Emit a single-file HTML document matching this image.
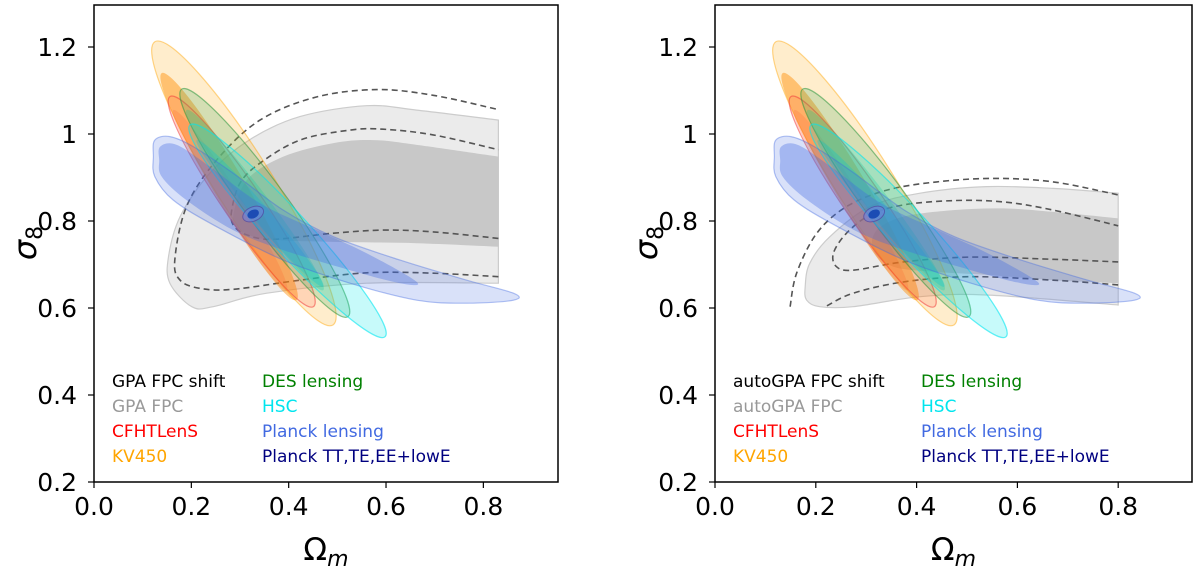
<!DOCTYPE html>
<html><head><meta charset="utf-8"><style>
html,body{margin:0;padding:0;background:#fff;}
svg{display:block;font-family:"DejaVu Sans","Liberation Sans",sans-serif;}
</style></head><body>
<svg id="fig" width="1200" height="571" viewBox="0 0 1200 571"></svg>
<script>
// ---- data (Omega_m, sigma_8) ----
const yTicks = [0.2, 0.4, 0.6, 0.8, 1.0, 1.2];
const yTickLabels = ["0.2", "0.4", "0.6", "0.8", "1", "1.2"];
const xTicks = [0.0, 0.2, 0.4, 0.6, 0.8];
const xTickLabels = ["0.0", "0.2", "0.4", "0.6", "0.8"];

// lensing ellipses: [topOm, topS8, botOm, botS8, widthRatio]
const kvOuter = [0.125, 1.212, 0.491, 0.561, 0.17];
const kvInner = [0.139, 1.14, 0.416, 0.618, 0.12];
const cfOuter = [0.156, 1.086, 0.451, 0.603, 0.15];
const cfInner = [0.163, 1.055, 0.396, 0.641, 0.1];
const desOuter = [0.18, 1.103, 0.522, 0.58, 0.15];
const desInner = [0.19, 1.055, 0.471, 0.641, 0.1];
const hscOuter = [0.197, 1.021, 0.598, 0.534, 0.14];
const hscInner = [0.211, 0.986, 0.471, 0.649, 0.09];
const planckTTCenter = [0.327, 0.816];

const plOuterOm = [0.125,0.156,0.204,0.286,0.389,0.492,0.629,0.766,0.862,0.862,0.766,0.663,0.526,0.389,0.252,0.163,0.125,0.122];
const plOuterS8 = [0.986,0.994,0.971,0.910,0.825,0.764,0.710,0.664,0.634,0.618,0.611,0.618,0.657,0.710,0.787,0.848,0.902,0.948];
const plInnerOm = [0.136,0.170,0.238,0.341,0.458,0.560,0.663,0.629,0.526,0.389,0.286,0.190,0.139,0.134];
const plInnerS8 = [0.971,0.975,0.925,0.841,0.779,0.726,0.660,0.657,0.687,0.733,0.779,0.848,0.902,0.940];

// left panel: GPA FPC
const gOuterOm = [0.201,0.156,0.153,0.177,0.238,0.32,0.423,0.56,0.663,0.831,0.831,0.56,0.355,0.245];
const gOuterS8 = [0.603,0.657,0.718,0.810,0.910,0.987,1.04,1.065,1.055,1.032,0.657,0.657,0.634,0.603];
const gInnerOm = [0.286,0.314,0.389,0.492,0.574,0.663,0.831,0.831,0.663,0.492,0.355,0.30];
const gInnerS8 = [0.810,0.894,0.948,0.979,0.986,0.975,0.948,0.741,0.749,0.752,0.758,0.779];
const gDashOuterOm = [0.831,0.697,0.56,0.423,0.286,0.218,0.177,0.166,0.19,0.252,0.341,0.457,0.581,0.697,0.831];
const gDashOuterS8 = [0.672,0.680,0.681,0.664,0.643,0.645,0.664,0.710,0.833,0.940,1.032,1.085,1.102,1.089,1.056];
const gDashInnerOm = [0.831,0.697,0.594,0.492,0.368,0.314,0.286,0.283,0.30,0.341,0.423,0.526,0.594,0.697,0.831];
const gDashInnerS8 = [0.760,0.775,0.779,0.772,0.758,0.768,0.791,0.825,0.887,0.933,0.986,1.009,1.011,0.998,0.964];

// right panel: autoGPA FPC
const aOuterOm = [0.179,0.188,0.228,0.308,0.407,0.539,0.671,0.80,0.80,0.539,0.407,0.274,0.208,0.182];
const aOuterS8 = [0.649,0.703,0.764,0.833,0.864,0.879,0.875,0.864,0.607,0.630,0.626,0.603,0.603,0.618];
const aInnerOm = [0.321,0.374,0.473,0.572,0.671,0.80,0.80,0.671,0.539,0.44,0.354,0.314];
const aInnerS8 = [0.779,0.810,0.825,0.829,0.821,0.806,0.657,0.664,0.676,0.683,0.695,0.733];
const aDashAOm = [0.149,0.162,0.202,0.261,0.341,0.44,0.552,0.671,0.80];
const aDashAS8 = [0.603,0.680,0.772,0.833,0.871,0.890,0.898,0.890,0.860];
const aDashBOm = [0.222,0.274,0.374,0.506,0.671,0.80];
const aDashBS8 = [0.605,0.634,0.660,0.672,0.664,0.653];
const aDashInnerOm = [0.80,0.671,0.506,0.374,0.274,0.241,0.235,0.261,0.308,0.374,0.473,0.572,0.671,0.80];
const aDashInnerS8 = [0.706,0.712,0.717,0.706,0.687,0.695,0.726,0.772,0.814,0.837,0.847,0.844,0.825,0.789];

const legendA = ["GPA FPC shift","GPA FPC","CFHTLenS","KV450"];
const legendA2 = ["autoGPA FPC shift","autoGPA FPC","CFHTLenS","KV450"];
const legendB = ["DES lensing","HSC","Planck lensing","Planck TT,TE,EE+lowE"];
const legendColA = ["#000000","#999999","#ff0000","#ffa500"];
const legendColB = ["#008000","#00e5ee","#4169e1","#000080"];

const NS = "http://www.w3.org/2000/svg";
const svg = document.getElementById('fig');
function mk(tag, attrs, parent){ const e=document.createElementNS(NS,tag); for(const k in attrs) e.setAttribute(k,attrs[k]); (parent||svg).appendChild(e); return e; }

function panel(cfg){
  const g = mk('g',{});
  
  
  const X = v => cfg.x0 + cfg.kx*v;
  const Xl = v => cfg.x0 + 486.7*v;
  const Y = v => 482 - 435*(v-0.2);
  function smoothPath(om,s8,Xf,closed,cut){
    const p = om.map((o,i)=>[Xf(o),Y(s8[i])]); const n=p.length;
    let d='M'+p[0][0].toFixed(1)+','+p[0][1].toFixed(1);
    const last = closed? n : n-1;
    for(let i=0;i<last;i++){
      const p0=p[(i-1+n)%n], p1=p[i], p2=p[(i+1)%n], p3=p[(i+2)%n];
      if(cut!==undefined && om[i]>=cut && om[(i+1)%n]>=cut){ d+=' L'+p2[0].toFixed(1)+','+p2[1].toFixed(1); continue; }
      let a0 = (!closed && i===0)? p1:p0, a3=(!closed && i===n-2)? p2:p3;
      if(cut!==undefined && om[i]>=cut) a0=p1;
      if(cut!==undefined && om[(i+1)%n]>=cut) a3=p2;
      const c1=[p1[0]+(p2[0]-a0[0])/6, p1[1]+(p2[1]-a0[1])/6];
      const c2=[p2[0]-(a3[0]-p1[0])/6, p2[1]-(a3[1]-p1[1])/6];
      d+=' C'+c1.map(v=>v.toFixed(1))+' '+c2.map(v=>v.toFixed(1))+' '+p2.map(v=>v.toFixed(1));
    }
    return d+(closed?'Z':'');
  }
  const cut = Math.max(...cfg.gOm)-0.001;
  let e = mk('path',{d:smoothPath(cfg.gOm,cfg.gS8,X,true,cut),fill:'#ebebeb',stroke:'#cccccc','stroke-width':1.2},g);
  
  
  e = mk('path',{d:smoothPath(cfg.giOm,cfg.giS8,X,true,cut),fill:'#c8c8c8',stroke:'none'},g);
  
  
  cfg.dashes.forEach((dd,i)=>{
    const p = mk('path',{d:smoothPath(dd[0],dd[1],X,false),fill:'none',stroke:'#555','stroke-width':1.6,'stroke-dasharray':'6,4'},g);
    
    
  });
  function ell(arr, fill, stroke, nm){
    const x1=Xl(arr[0]), y1=Y(arr[1]), x2=Xl(arr[2]), y2=Y(arr[3]);
    const cx=(x1+x2)/2, cy=(y1+y2)/2, L=Math.hypot(x2-x1,y2-y1);
    const ang=Math.atan2(y2-y1,x2-x1)*180/Math.PI;
    const el = mk('ellipse',{cx:cx.toFixed(1),cy:cy.toFixed(1),rx:(L/2).toFixed(1),ry:(L*arr[4]/2).toFixed(1),transform:`rotate(${ang.toFixed(2)} ${cx.toFixed(1)} ${cy.toFixed(1)})`,fill:fill,stroke:stroke,'stroke-width':1.2},g);
    
    
  }
  ell(kvOuter,'rgba(255,165,0,0.2)','rgba(255,165,0,0.45)','kv450-outer');
  ell(kvInner,'rgba(255,140,0,0.45)','none','kv450-inner');
  ell(cfOuter,'rgba(255,80,60,0.15)','rgba(240,60,60,0.55)','cfhtlens-outer');
  ell(cfInner,'rgba(255,90,40,0.2)','none','cfhtlens-inner');
  ell(desOuter,'rgba(60,170,90,0.22)','rgba(40,150,60,0.55)','des-outer');
  ell(desInner,'rgba(30,200,140,0.3)','none','des-inner');
  ell(hscOuter,'rgba(0,230,230,0.22)','rgba(0,230,240,0.6)','hsc-outer');
  ell(hscInner,'rgba(0,200,210,0.3)','none','hsc-inner');
  e = mk('path',{d:smoothPath(plOuterOm,plOuterS8,Xl,true),fill:'rgba(65,105,225,0.2)',stroke:'rgba(65,105,225,0.4)','stroke-width':1.2},g);
  
  
  e = mk('path',{d:smoothPath(plInnerOm,plInnerS8,Xl,true),fill:'rgba(65,105,225,0.35)',stroke:'none'},g);
  
  
  const tx=Xl(planckTTCenter[0]), ty=Y(planckTTCenter[1]);
  e = mk('ellipse',{cx:tx,cy:ty,rx:11,ry:7,transform:`rotate(-25 ${tx} ${ty})`,fill:'rgba(110,130,220,0.6)',stroke:'rgba(80,70,160,0.7)','stroke-width':1},g);
  
  
  e = mk('ellipse',{cx:tx,cy:ty,rx:6,ry:4.2,transform:`rotate(-25 ${tx} ${ty})`,fill:'#1c4cb4'},g);
  
  
  e = mk('rect',{x:cfg.x0,y:5,width:cfg.x1-cfg.x0,height:477,fill:'none',stroke:'#000','stroke-width':1.5},g);
  
  
  yTicks.forEach((v,i)=>{
    mk('line',{x1:cfg.x0-6,x2:cfg.x0,y1:Y(v),y2:Y(v),stroke:'#000','stroke-width':1.2},g);
    const t=mk('text',{x:cfg.x0-17,y:Y(v)+9,'text-anchor':'end','font-size':25,fill:'#000'},g);
    t.textContent=yTickLabels[i];
    
    
  });
  xTicks.forEach((v,i)=>{
    mk('line',{x1:X(v),x2:X(v),y1:482,y2:488,stroke:'#000','stroke-width':1.2},g);
    const t=mk('text',{x:X(v),y:515,'text-anchor':'middle','font-size':25,fill:'#000'},g);
    t.textContent=xTickLabels[i];
    
    
  });
  let t=mk('text',{x:(cfg.x0+cfg.x1)/2,y:560,'text-anchor':'middle','font-size':31,fill:'#000'},g);
  t.innerHTML='Ω<tspan font-style="italic" font-size="22" dy="6">m</tspan>';
  
  
  t=mk('text',{x:0,y:0,transform:`translate(${cfg.x0-58},243) rotate(-90)`,'text-anchor':'middle','font-size':32,fill:'#000'},g);
  t.innerHTML='<tspan font-style="italic">σ</tspan><tspan font-size="22" dy="6">8</tspan>';
  
  
  cfg.legA.forEach((s,i)=>{
    const l=mk('text',{x:cfg.x0+18,y:387+25*i,'font-size':17,fill:legendColA[i]},g);
    l.textContent=s;
    
    
  });
  legendB.forEach((s,i)=>{
    const l=mk('text',{x:cfg.legX2,y:387+25*i,'font-size':17,fill:legendColB[i]},g);
    l.textContent=s;
    
    
  });
}

panel({name:'left-panel',x0:94,x1:558,kx:486.7,gOm:gOuterOm,gS8:gOuterS8,giOm:gInnerOm,giS8:gInnerS8,
  dashes:[[gDashOuterOm,gDashOuterS8],[gDashInnerOm,gDashInnerS8]],legA:legendA,legX2:262});
panel({name:'right-panel',x0:715,x1:1192,kx:504,gOm:aOuterOm,gS8:aOuterS8,giOm:aInnerOm,giS8:aInnerS8,
  dashes:[[aDashAOm,aDashAS8],[aDashBOm,aDashBS8],[aDashInnerOm,aDashInnerS8]],legA:legendA2,legX2:921});
</script>
</body></html>
